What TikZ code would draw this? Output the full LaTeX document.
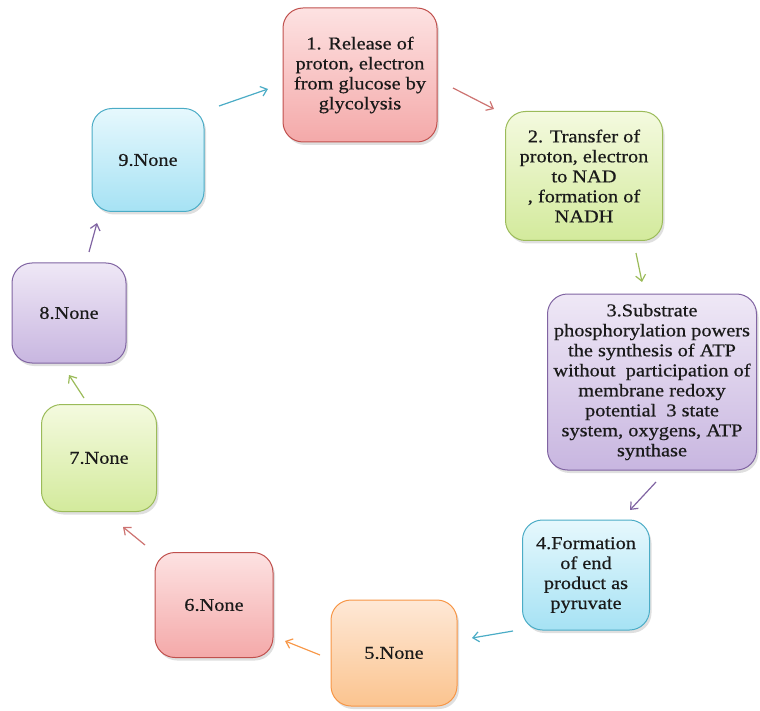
\documentclass[tikz,border=0pt]{standalone}
\usepackage{fontspec}
\setmainfont{Liberation Serif}[FakeStretch=1.13,FakeBold=0.6]
\usetikzlibrary{arrows.meta,shadows}
\definecolor{redB}{HTML}{C0504D}\definecolor{redT}{HTML}{FDE2E2}\definecolor{redM}{HTML}{F4A9A9}
\definecolor{grnB}{HTML}{9BBB59}\definecolor{grnT}{HTML}{F4FADF}\definecolor{grnM}{HTML}{D3EA9C}
\definecolor{purB}{HTML}{8064A2}\definecolor{purT}{HTML}{EFE8F6}\definecolor{purM}{HTML}{C8B6E0}
\definecolor{cyaB}{HTML}{4BACC6}\definecolor{cyaT}{HTML}{E6F8FD}\definecolor{cyaM}{HTML}{A6E2F4}
\definecolor{orgB}{HTML}{F79646}\definecolor{orgT}{HTML}{FEE8D6}\definecolor{orgM}{HTML}{FBC48F}
\definecolor{txt}{HTML}{1A1A1A}
\tikzset{
  box/.style={rectangle, rounded corners=20pt, line width=1pt, align=center,
    font=\fontsize{18}{20}\selectfont, text=txt, inner sep=0pt,
    drop shadow={shadow xshift=2pt, shadow yshift=-3pt, opacity=0.25}},
  rbox/.style={box, draw=redB, top color=redT, bottom color=redM},
  gbox/.style={box, draw=grnB, top color=grnT, bottom color=grnM},
  pbox/.style={box, draw=purB, top color=purT, bottom color=purM},
  cbox/.style={box, draw=cyaB, top color=cyaT, bottom color=cyaM},
  obox/.style={box, draw=orgB, top color=orgT, bottom color=orgM},
  conn/.style={line width=1.2pt, -{Straight Barb[length=6pt,width=10pt]}}
}
\begin{document}
\begin{tikzpicture}[x=1pt,y=-1pt]
\useasboundingbox (0,0) rectangle (760,711);
\node[rbox, minimum width=154pt, minimum height=134pt] (n1) at (360,75)
  {1. Release of\\proton, electron\\from glucose by\\glycolysis};
\node[gbox, minimum width=157pt, minimum height=129pt] (n2) at (584,176)
  {2. Transfer of\\proton, electron\\to NAD\\, formation of\\NADH};
\node[pbox, minimum width=209pt, minimum height=176pt] (n3) at (652,382)
  {3.Substrate\\phosphorylation powers\\the synthesis of ATP\\without\ \ participation of\\membrane redoxy\\potential\ \ 3 state\\system, oxygens, ATP\\synthase};
\node[cbox, minimum width=127pt, minimum height=110pt] (n4) at (586,575)
  {4.Formation\\of end\\product as\\pyruvate};
\node[obox, minimum width=126pt, minimum height=106pt] (n5) at (394,653) {5.None};
\node[rbox, minimum width=118pt, minimum height=105pt] (n6) at (214,605) {6.None};
\node[gbox, minimum width=115pt, minimum height=107pt] (n7) at (99,458) {7.None};
\node[pbox, minimum width=114pt, minimum height=100pt] (n8) at (69,313) {8.None};
\node[cbox, minimum width=112pt, minimum height=103pt] (n9) at (148,160) {9.None};

\coordinate (a91s) at (219,106); \coordinate (a91e) at (268,89);
\coordinate (a12s) at (453,88);  \coordinate (a12e) at (494,109);
\coordinate (a23s) at (636,253); \coordinate (a23e) at (642,282);
\coordinate (a34s) at (656,482); \coordinate (a34e) at (630,510);
\coordinate (a45s) at (513,631); \coordinate (a45e) at (472,638);
\coordinate (a56s) at (320,655); \coordinate (a56e) at (285,641);
\coordinate (a67s) at (145,545); \coordinate (a67e) at (123,527);
\coordinate (a78s) at (84,398);  \coordinate (a78e) at (69,375);
\coordinate (a89s) at (89,252);  \coordinate (a89e) at (97,223);

\draw[conn, cyaB] (a91s) -- (a91e);
\draw[conn, redB!80] (a12s) -- (a12e);
\draw[conn, grnB] (a23s) -- (a23e);
\draw[conn, purB] (a34s) -- (a34e);
\draw[conn, cyaB] (a45s) -- (a45e);
\draw[conn, orgB] (a56s) -- (a56e);
\draw[conn, redB!80] (a67s) -- (a67e);
\draw[conn, grnB] (a78s) -- (a78e);
\draw[conn, purB] (a89s) -- (a89e);
\end{tikzpicture}
\end{document}
